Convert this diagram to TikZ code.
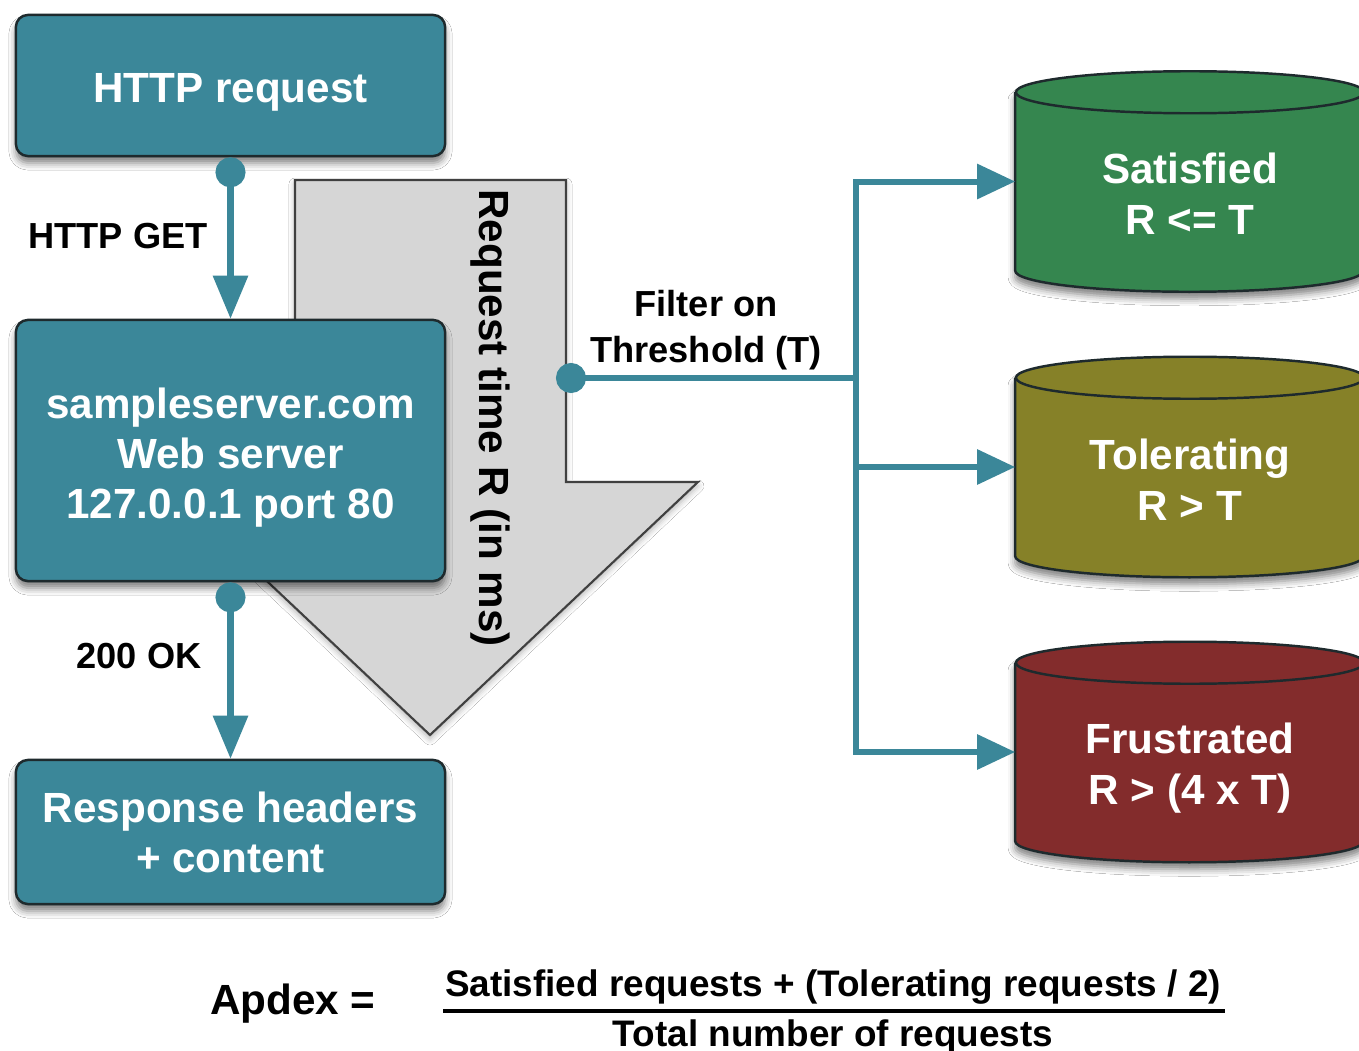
\documentclass[tikz,border=0pt]{standalone}
\usepackage{fontspec}
\setmainfont{Liberation Sans}
\usetikzlibrary{arrows.meta,shadows.blur,calc}

\definecolor{apteal}{HTML}{3B8799}
\definecolor{apgreen}{HTML}{35864F}
\definecolor{apolive}{HTML}{868128}
\definecolor{apred}{HTML}{832C2C}
\definecolor{apgray}{HTML}{D6D6D6}
\definecolor{apedge}{HTML}{1E2A2D}

\tikzset{
  softshadow/.style={blur shadow={shadow xshift=0pt, shadow yshift=-0.07cm,
      shadow blur radius=0.07cm, shadow opacity=50}},
  box/.style={draw=apedge, line width=0.7pt, fill=apteal, rounded corners=0.12cm,
      minimum width=4.29cm, inner sep=0pt, softshadow},
  boxtext/.style={inner sep=0pt, text=white, align=center,
      font=\bfseries\fontsize{12pt}{14.2pt}\selectfont},
  lbl/.style={inner sep=0pt, text=black, align=center,
      font=\bfseries\fontsize{10.3pt}{13pt}\selectfont},
  conn/.style={draw=apteal, line width=0.06cm},
  dot/.style={{Circle[length=0.3cm]}-},
  dotvtip/.style={{Circle[length=0.3cm]}-{Triangle[length=0.43cm,width=0.34cm]}},
  htip/.style={-{Triangle[length=0.38cm,width=0.34cm]}},
  cylslot/.style={inner sep=0pt, minimum width=3.48cm, minimum height=2.19cm},
  cyltext/.style={inner sep=0pt, text=white, align=center,
      font=\bfseries\fontsize{12pt}{14.4pt}\selectfont},
  eqtext/.style={inner sep=0pt, text=black,
      font=\bfseries\fontsize{10.5pt}{12pt}\selectfont},
}

% cylinder drawn round an invisible slot node: #1 slot name, #2 fill colour
\newcommand{\apdexcyl}[2]{%
  \path[fill=#2, softshadow]
    ([yshift=-0.21cm]#1.north west) -- ([yshift=0.21cm]#1.south west)
    arc[start angle=180, end angle=360, x radius=1.74cm, y radius=0.21cm]
    -- ([yshift=-0.21cm]#1.north east)
    arc[start angle=0, end angle=180, x radius=1.74cm, y radius=0.21cm] -- cycle;
  \draw[apedge, line width=0.7pt]
    ([yshift=-0.21cm]#1.north west) -- ([yshift=0.21cm]#1.south west)
    arc[start angle=180, end angle=360, x radius=1.74cm, y radius=0.21cm]
    -- ([yshift=-0.21cm]#1.north east);
  \draw[apedge, line width=0.7pt]
    ([yshift=-0.21cm]#1.north) ellipse[x radius=1.74cm, y radius=0.21cm];
}

\begin{document}
\begin{tikzpicture}[x=0.01cm, y=-0.01cm]
  \fill[white] (0,0) rectangle (1359,1051);
  \useasboundingbox (0,0) rectangle (1359,1051);

  % grey block arrow for the request time
  \path[fill=apgray, draw=black!75, line width=0.6pt,
        blur shadow={shadow xshift=0pt, shadow yshift=-0.04cm, shadow blur radius=0.06cm, shadow opacity=30}]
    (295,180) -- (566,180) -- (566,482) -- (698,482) -- (430,735)
    -- (162,482) -- (295,482) -- cycle;
  \node[rotate=-90, inner sep=0pt, font=\bfseries\fontsize{12pt}{14pt}\selectfont]
    (rtime) at (490,418) {Request time R (in ms)};

  % request / server / response boxes
  \node[box, minimum height=1.41cm] (req) at (230.5,85.5) {};
  \node[box, minimum height=2.61cm] (srv) at (230.5,450.5) {};
  \node[box, minimum height=1.44cm] (resp) at (230.5,832) {};
  \node[boxtext] (reqt) at (230.5,92) {HTTP request};
  \node[boxtext] (srvt) at (230.5,457.5)
    {sampleserver.com\\Web server\\127.0.0.1 port 80};
  \node[boxtext] (respt) at (230.5,832) {Response headers\\+ content};

  \draw[conn, dotvtip] (req.south) -- (srv.north)
    node[lbl, pos=0.49, left=0.2cm] (get) {HTTP GET};
  \draw[conn, dotvtip] (srv.south) -- (resp.north)
    node[lbl, pos=0.42, left=0.26cm] (ok) {200 OK};

  % threshold filter
  \node[cylslot] (sat) at (1190,181.5) {};
  \node[cylslot] (tol) at (1190,467) {};
  \node[cylslot] (fru) at (1190,752) {};
  \apdexcyl{sat}{apgreen}
  \apdexcyl{tol}{apolive}
  \apdexcyl{fru}{apred}
  \node[cyltext] (satl) at ([yshift=-0.12cm]sat.center) {Satisfied\\R <= T};
  \node[cyltext] (toll) at ([yshift=-0.13cm]tol.center) {Tolerating\\R > T};
  \node[cyltext] (frul) at ([yshift=-0.16cm]fru.center) {Frustrated\\R > (4 x T)};

  \coordinate (tap) at (556,378);
  \coordinate (junc) at (856,378);
  \draw[conn, dot] (tap) -- (junc)
    node[lbl, midway, above=0.05cm] (filt) {Filter on\\Threshold (T)};
  \draw[conn, htip] (junc) |- (sat.west);
  \draw[conn, htip] (junc) |- (tol.west);
  \draw[conn, htip] (junc) |- (fru.west);

  % Apdex formula
  \node[inner sep=0pt, font=\bfseries\fontsize{12pt}{14pt}\selectfont] (apx) at (293,1004) {Apdex =};
  \node[eqtext] (num) at (833,987) {Satisfied requests + (Tolerating requests / 2)};
  \node[eqtext] (den) at (833,1037) {Total number of requests};
  \draw[line width=0.04cm] (443,1011) -- (1225,1011);
\end{tikzpicture}
\end{document}
